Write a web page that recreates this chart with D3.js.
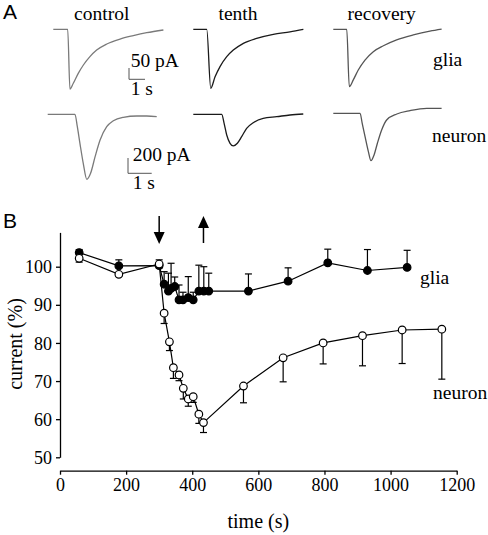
<!DOCTYPE html>
<html><head><meta charset="utf-8">
<script src="https://cdn.jsdelivr.net/npm/d3@7"></script>
<style>
body{margin:0;background:#fff;}
svg{display:block;}
text{font-family:"Liberation Serif","Times New Roman",serif;fill:#000;}
</style></head>
<body>
<svg id="chart" width="488" height="535"></svg>
<script>
// ---------- Panel B data ----------
const gliaTime = [58,178,300,315,328,336,347,360,372,388,403,420,435,450,570,690,810,930,1050];
const gliaValue = [103.7,100.2,100.3,95.4,93.6,94.3,94.8,91.3,91.3,91.9,91.3,93.6,93.6,93.6,93.6,96.2,101.0,99.0,99.8];
const gliaErr = [0.8,1.6,1.5,3.3,4.7,6.6,2.5,3.9,2.0,5.5,2.0,6.8,6.4,4.7,4.5,3.5,3.6,5.5,4.5];

const neuronTime = [58,178,300,315,331,343,360,373,388,403,420,434,555,675,796,915,1035,1155];
const neuronValue = [102.2,98.0,100.7,87.8,80.3,73.5,71.6,68.1,65.3,65.9,61.3,59.1,68.7,76.1,80.0,81.9,83.4,83.6];
const neuronErr = [1.0,0.5,1.0,2.7,2.3,2.8,1.5,2.8,1.9,1.5,2.4,2.6,4.4,6.3,5.5,7.9,8.8,13.1];

const arrowTimes = [300,434]; // drug on (down), drug off (up)
const xTicks = [0,200,400,600,800,1000,1200];
const yTicks = [50,60,70,80,90,100];

// ---------- Panel A trace data (time s, current pA) ----------
const traceLabels = ["control","tenth","recovery"];
const gliaCtrlT = [0,0.9,1.04,1.25,1.56,1.88,2.29,2.71,3.34,4.17,5.0,5.84,6.88];
const gliaCtrlI = [0,0,-265,-239,-195,-158,-121,-92,-65,-43,-28,-15,-3];
const gliaTenthT = [0,0.84,1.09,1.36,1.67,2.09,2.5,3.13,3.96,5.0,6.04,6.88];
const gliaTenthI = [0,0,-261,-210,-165,-121,-92,-62,-40,-22,-11,0];
const gliaRecT = [0,0.84,1.0,1.25,1.56,1.98,2.5,3.13,3.96,5.0,6.04,6.77];
const gliaRecI = [0,0,-254,-224,-180,-136,-99,-73,-47,-25,-8,1];

const neuCtrlT = [0,1.15,1.25,1.36,1.50,1.65,1.81,2.0,2.21,2.49,2.77,3.19,3.76,4.18,4.60];
const neuCtrlI = [0,0,-162,-379,-641,-850,-771,-554,-336,-162,-84,-39,-22,-22,-31];
const neuTenthT = [0,1.20,1.30,1.41,1.55,1.69,1.86,2.04,2.25,2.53,2.95,3.52,4.08,4.64];
const neuTenthI = [0,0,-118,-271,-379,-414,-379,-293,-183,-110,-52,-31,-9,4];
const neuRecT = [0,1.13,1.22,1.34,1.48,1.59,1.72,1.86,2.04,2.25,2.68,3.24,3.94,4.57];
const neuRecI = [13,13,-118,-292,-488,-606,-532,-379,-205,-74,4,48,78,78];

const svg = d3.select("#chart");
const FS = 19.5;

// ---------------- Panel A ----------------
function txt(x,y,s,size,anchor,extra){
  const t = svg.append("text").attr("x",x).attr("y",y).attr("font-size",size)
    .attr("text-anchor",anchor||"start").text(s);
  if(extra) extra(t);
  return t;
}
txt(3,19,"A",21,"start",t=>t.style("font-family","'Liberation Sans',Arial,sans-serif"));
txt(3,228,"B",21,"start",t=>t.style("font-family","'Liberation Sans',Arial,sans-serif"));

const colX = [101.7,238,381.7];
traceLabels.forEach((l,i)=>txt(colX[i],20,l,FS,"middle"));
txt(433,66,"glia",FS,"start");
txt(432,142,"neuron",FS,"start");

const traceX0 = [53.3,193.3,333.3];
const neuX0 = [47.7,193.3,333.3];
const traceColors = ["#7a7a7a","#1a1a1a","#555"];

function drawTrace(T,I,x0,pxPerSec,baseY,pxPerPA,color){
  const xs = d3.scaleLinear().domain([0,1]).range([x0,x0+pxPerSec]);
  const ys = d3.scaleLinear().domain([0,-100]).range([baseY,baseY+100*pxPerPA]);
  const line = d3.line().x(d=>xs(d[0])).y(d=>ys(d[1])).curve(d3.curveMonotoneX);
  svg.append("path").attr("d",line(T.map((t,k)=>[t,I[k]])))
    .attr("fill","none").attr("stroke",color).attr("stroke-width",1.3);
}
const gliaSets = [[gliaCtrlT,gliaCtrlI],[gliaTenthT,gliaTenthI],[gliaRecT,gliaRecI]];
const neuSets = [[neuCtrlT,neuCtrlI],[neuTenthT,neuTenthI],[neuRecT,neuRecI]];
gliaSets.forEach((s,i)=>drawTrace(s[0],s[1],traceX0[i],16,29.3,0.226,traceColors[i]));
neuSets.forEach((s,i)=>drawTrace(s[0],s[1],neuX0[i],23.7,114.3,0.0765,traceColors[i]));

// scale bars
function scaleBar(x,yTop,yBot,xRight){
  svg.append("path").attr("d",`M${x},${yTop}V${yBot}H${xRight}`)
    .attr("fill","none").attr("stroke","#555").attr("stroke-width",1);
}
scaleBar(129,68,79.3,145);
txt(130.7,67,"50 pA",FS);
txt(130.7,94.5,"1 s",FS);
scaleBar(128,158,173.3,151.7);
txt(132.7,160.5,"200 pA",FS);
txt(132.7,188.5,"1 s",FS);

// ---------------- Panel B ----------------
const x = d3.scaleLinear().domain([0,1200]).range([60,456.7]);
const y = d3.scaleLinear().domain([50,100]).range([457.3,266.7]);
const yTop = 109;

const xAxis = d3.axisBottom(x).tickValues(xTicks).tickFormat(d3.format("d")).tickSize(4).tickSizeOuter(0).tickPadding(4);
const gx = svg.append("g").attr("transform","translate(0,470.7)").call(xAxis);
const yAxis = d3.axisLeft(y.copy().domain([50,yTop]).range([457.3,y(yTop)])).tickValues(yTicks).tickFormat(d3.format("d")).tickSize(4).tickSizeOuter(0).tickPadding(4);
const gy = svg.append("g").attr("transform","translate(60,0)").call(yAxis);
[gx,gy].forEach(g=>{
  g.selectAll("text").attr("font-size",18).style("font-family","'Liberation Serif','Times New Roman',serif").attr("fill","#000");
  g.selectAll("path,line").attr("stroke","#000").attr("stroke-width",1.3);
});
gy.selectAll(".tick text").attr("dy","0.34em");

svg.append("text").attr("x",258.3).attr("y",528).attr("text-anchor","middle").attr("font-size",20).text("time (s)");
svg.append("text").attr("transform","translate(22,344) rotate(-90)").attr("text-anchor","middle").attr("font-size",20).text("current (%)");

// arrows
const arrowG = svg.append("g");
arrowG.append("line").attr("x1",x(arrowTimes[0])).attr("x2",x(arrowTimes[0])).attr("y1",216).attr("y2",233).attr("stroke","#000").attr("stroke-width",1.5);
arrowG.append("path").attr("d",`M${x(arrowTimes[0])-5.5},232L${x(arrowTimes[0])+5.5},232L${x(arrowTimes[0])},244Z`).attr("fill","#000");
arrowG.append("line").attr("x1",x(arrowTimes[1])).attr("x2",x(arrowTimes[1])).attr("y1",227).attr("y2",243).attr("stroke","#000").attr("stroke-width",1.5);
arrowG.append("path").attr("d",`M${x(arrowTimes[1])-5.5},228L${x(arrowTimes[1])+5.5},228L${x(arrowTimes[1])},216Z`).attr("fill","#000");

function series(T,V,E,dir,fill){
  const g = svg.append("g");
  const pts = T.map((t,i)=>({t,v:V[i],e:E[i]}));
  pts.forEach(p=>{
    const y0 = y(p.v), y1 = y(p.v + dir*p.e);
    g.append("line").attr("x1",x(p.t)).attr("x2",x(p.t)).attr("y1",y0).attr("y2",y1).attr("stroke","#000").attr("stroke-width",1.2);
    g.append("line").attr("x1",x(p.t)-3.5).attr("x2",x(p.t)+3.5).attr("y1",y1).attr("y2",y1).attr("stroke","#000").attr("stroke-width",1.2);
  });
  g.append("path").attr("d",d3.line().x(p=>x(p.t)).y(p=>y(p.v))(pts))
    .attr("fill","none").attr("stroke","#000").attr("stroke-width",1.2);
  g.selectAll("circle").data(pts).join("circle")
    .attr("cx",p=>x(p.t)).attr("cy",p=>y(p.v)).attr("r",3.8)
    .attr("fill",fill).attr("stroke","#000").attr("stroke-width",1.2);
}
series(gliaTime,gliaValue,gliaErr,1,"#000");
series(neuronTime,neuronValue,neuronErr,-1,"#fff");

svg.append("text").attr("x",420).attr("y",284).attr("font-size",FS).text("glia");
svg.append("text").attr("x",433).attr("y",398.5).attr("font-size",FS).text("neuron");
</script>
</body></html>
